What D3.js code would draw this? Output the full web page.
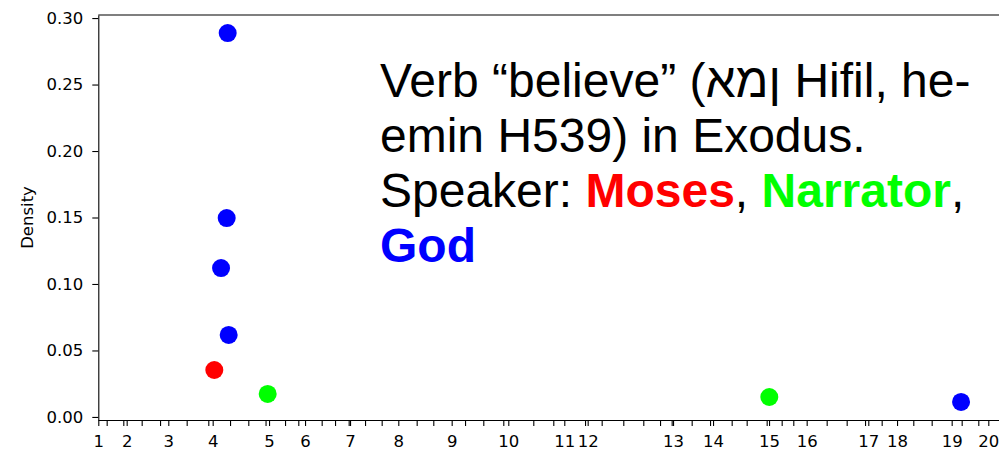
<!DOCTYPE html>
<html>
<head>
<meta charset="utf-8">
<script src="https://cdn.jsdelivr.net/npm/d3@7"></script>
<style>
    body { margin: 0; background: #fff; }
    svg { display: block; overflow: hidden; }
</style>
</head>
<body>
<div class="chart"></div>
<script>
// x positions are word offsets into Exodus
const chapterLabels = d3.range(1, 21).map(String);
const chapterStarts = [0, 227, 560, 915, 1366, 1654, 2014, 2400, 2827, 3280,
                       3728, 3915, 4598, 4918, 5366, 5667, 6160, 6390, 6827, 7120];
const verseTicks = [67, 200, 347, 494, 707, 880, 1054, 1200, 1338, 1494, 1600, 1787, 1894, 2003,
                    2134, 2267, 2547, 2680, 2934, 3080, 3240, 3480, 3640, 3894, 4027, 4200, 4360,
                    4494, 4587, 4747, 4894, 5067, 5187, 5347, 5467, 5560, 5827, 5987, 6134, 6267,
                    6520, 6667, 6907, 7040];

// occurrences of the verb, by speaker
const speakers = ["Moses", "God", "God", "God", "God", "Narrator", "Narrator", "God"];
const positions = [928, 1043, 982, 1027, 1035, 1355, 5368, 6902];
const densities = [0.0353, 0.0617, 0.112, 0.1496, 0.2887, 0.0173, 0.015, 0.0113];

const yTicks = [0, 0.05, 0.10, 0.15, 0.20, 0.25, 0.30];
const speakerColours = { Moses: "#ff0000", Narrator: "#00ff00", God: "#0000ff" };

const width = 999, height = 453;
const margin = { top: 15, left: 98.3, bottom: 33 };
const TICK_FONT = 16.5;

let svg = d3.select(".chart").append("svg")
    .attr("width", width)
    .attr("height", height);

// x axis runs past the right edge of the picture
let x = d3.scaleLinear()
    .domain([0, 8000])
    .range([margin.left, margin.left + 1000]);

let y = d3.scaleLinear()
    .domain([-0.0023, 0.3023])
    .range([height - margin.bottom, margin.top]);

const xAxisY = height - margin.bottom;

function styleAxis(g)
{
    g.attr("font-family", "DejaVu Sans, sans-serif").attr("font-size", TICK_FONT);
    g.selectAll(".tick text").attr("fill", "#000");
    g.selectAll(".tick line").attr("stroke-width", 1.1);
    g.select(".domain").attr("stroke-width", 1.1);
}

// top spine
svg.append("line")
    .attr("x1", margin.left).attr("x2", width)
    .attr("y1", margin.top).attr("y2", margin.top)
    .attr("stroke", "#000").attr("stroke-width", 1.1);

// y axis
svg.append("g")
    .attr("transform", "translate(" + margin.left + ",0)")
    .call(d3.axisLeft(y).tickValues(yTicks).tickFormat(d3.format(".2f")).tickSize(6).tickPadding(9).tickSizeOuter(0))
    .call(styleAxis);

svg.append("text")
    .attr("transform", "translate(33," + ((margin.top + xAxisY) / 2) + ") rotate(-90)")
    .attr("text-anchor", "middle")
    .attr("font-family", "DejaVu Sans, sans-serif")
    .attr("font-size", TICK_FONT)
    .text("Density");

// x axis: verse ticks (no labels) and chapter ticks
let xMinor = svg.append("g")
    .attr("transform", "translate(0," + xAxisY + ")")
    .call(d3.axisBottom(x).tickValues(verseTicks).tickFormat("").tickSize(6).tickSizeOuter(0))
    .call(styleAxis);

xMinor.select(".domain").remove();

svg.append("g")
    .attr("transform", "translate(0," + xAxisY + ")")
    .call(d3.axisBottom(x).tickValues(chapterStarts)
        .tickFormat((d, i) => chapterLabels[i]).tickSize(6).tickPadding(9).tickSizeOuter(0))
    .call(styleAxis);

// scatter points
svg.append("g")
    .selectAll("circle")
    .data(positions)
    .enter()
        .append("circle")
        .attr("cx", d => x(d))
        .attr("cy", (d, i) => y(densities[i]))
        .attr("r", 9)
        .attr("fill", (d, i) => speakerColours[speakers[i]]);

// title block
let title = svg.append("text")
    .attr("font-family", "Liberation Sans, Arial, sans-serif")
    .attr("font-size", 48)
    .attr("x", 380)
    .attr("y", 97);

// hebrew kept in stored order, left to right
title.append("tspan").text("Verb \u201cbelieve\u201d (\u202d\u05d0\u05de\u05df\u202c Hifil, he-");

title.append("tspan").attr("x", 380).attr("dy", 55).text("emin H539) in Exodus.");

title.append("tspan").attr("x", 380).attr("dy", 55).text("Speaker: ");
title.append("tspan").attr("fill", speakerColours.Moses).attr("font-weight", "bold").text("Moses");
title.append("tspan").text(", ");
title.append("tspan").attr("fill", speakerColours.Narrator).attr("font-weight", "bold").text("Narrator");
title.append("tspan").text(",");

title.append("tspan").attr("x", 380).attr("dy", 55)
    .attr("fill", speakerColours.God).attr("font-weight", "bold").text("God");
</script>
</body>
</html>
